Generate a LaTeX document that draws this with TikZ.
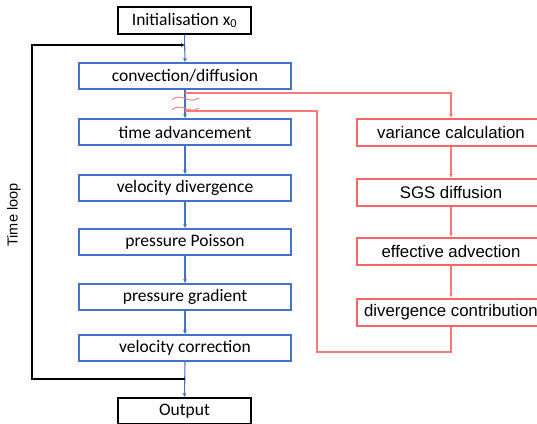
\documentclass[tikz,border=0pt]{standalone}
\usepackage{fontspec}
\setmainfont{Carlito}
\newfontfamily\arialf{Liberation Sans}
\usetikzlibrary{arrows.meta}
\definecolor{bbox}{RGB}{68,114,196}
\definecolor{rbox}{RGB}{250,100,100}
\definecolor{rline}{RGB}{250,120,120}
\tikzset{
  bluebox/.style={draw=bbox, line width=1.3pt, minimum width=212pt, minimum height=26pt, inner sep=0pt, font=\fontsize{17.5}{20}\selectfont},
  blackbox/.style={draw=black, line width=1.3pt, minimum width=133pt, minimum height=27pt, inner sep=0pt, font=\fontsize{17.5}{20}\selectfont},
  redbox/.style={draw=rbox, line width=2pt, minimum width=188pt, minimum height=27pt, inner sep=0pt, font=\arialf\fontsize{16.8}{19}\selectfont},
  barrow/.style={draw=bbox, line width=1.1pt, -{Latex[length=4pt,width=4pt]}},
  rarrow/.style={draw=rline, line width=1.2pt, -{Latex[length=4pt,width=4pt]}},
  rpath/.style={draw=rline, line width=1.2pt},
  karrow/.style={draw=black, line width=1.2pt, -{Latex[length=4pt,width=4pt]}},
  squig/.style={draw=rline, line width=0.9pt},
}
\begin{document}
\begin{tikzpicture}[x=1pt,y=-1pt]
\clip (0,0) rectangle (537,423);
\useasboundingbox (0,0) rectangle (537,423);
\node[blackbox] (init) at (184.5,20.5) {Initialisation x\textsubscript{0}};
\node[bluebox] (conv) at (185,76) {convection/diffusion};
\node[bluebox] (time) at (185,132) {time advancement};
\node[bluebox] (vdiv) at (185,188) {velocity divergence};
\node[bluebox] (pp) at (185,242) {pressure Poisson};
\node[bluebox] (pg) at (185,297) {pressure gradient};
\node[bluebox] (vc) at (185,348) {velocity correction};
\node[blackbox, minimum height=26pt] (out) at (184.5,411) {Output};

\node[redbox] (var) at (451,132.5) {variance calculation};
\node[redbox] (sgs) at (451,192.5) {SGS diffusion};
\node[redbox] (eff) at (451,251.5) {effective advection};
\node[redbox] (divc) at (451,312) {divergence contribution};

\node[rotate=90, font=\arialf\fontsize{14.5}{16}\selectfont] (tl) at (14,215) {Time loop};

% blue flow
\draw[barrow] (init.south) -- (conv.north);
\draw[barrow] (conv.south) -- (time.north);
\draw[barrow] (time.south) -- (vdiv.north);
\draw[barrow] (vdiv.south) -- (pp.north);
\draw[barrow] (pp.south) -- (pg.north);
\draw[barrow] (pg.south) -- (vc.north);
\draw[barrow] (vc.south) -- (out.north);

% red branches
\coordinate (r1) at (185,93);
\coordinate (r2) at (185,111);
\coordinate (r2a) at (317,111);
\coordinate (r2b) at (317,352);
\draw[rarrow] (r1) -| (var.north);
\draw[rarrow] (var.south) -- (sgs.north);
\draw[rarrow] (sgs.south) -- (eff.north);
\draw[rarrow] (eff.south) -- (divc.north);
\draw[rpath] (r2) -- (r2a) -- (r2b) -| (divc.south);

% squiggles
\coordinate (s1a) at (172,99.5);
\coordinate (s1b) at (199,98);
\coordinate (s2a) at (172,109.5);
\coordinate (s2b) at (199,108);
\draw[squig] (s1a) .. controls (182,92) and (189,105) .. (s1b);
\draw[squig] (s2a) .. controls (182,102) and (189,115) .. (s2b);

% time loop
\coordinate (lp) at (185,379);
\coordinate (lpa) at (32,379);
\coordinate (lpb) at (32,45);
\coordinate (lpc) at (185,45);
\draw[karrow] (lp) -- (lpa) -- (lpb) -- (lpc);
\end{tikzpicture}
\end{document}
